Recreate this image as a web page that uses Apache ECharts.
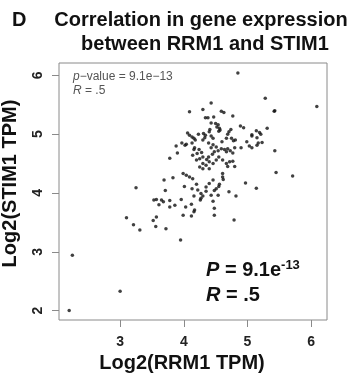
<!DOCTYPE html>
<html>
<head>
<meta charset="utf-8">
<script src="https://cdn.jsdelivr.net/npm/echarts@6/dist/echarts.min.js"></script>
<style>
  html, body { margin: 0; background: #fff; }
  #chart { width: 356px; height: 385px; }
</style>
</head>
<body>
<div id="chart"></div>
<script>
// RRM1 (x) and STIM1 (y), log2 TPM
const rrm1 = [
  4.85, 5.28, 6.09, 5.42, 5.43, 4.43, 4.09, 4.30, 4.59, 4.63,
  4.77, 4.34, 4.38, 4.47, 4.43, 4.50, 4.54, 4.52, 4.41, 4.56,
  4.55, 4.57, 4.89, 4.94, 4.74, 4.71, 5.31, 5.14, 5.19, 5.07,
  5.07, 5.21, 5.15, 4.06, 4.09, 4.13, 4.16, 4.18, 4.23, 4.31,
  4.34, 4.33, 4.30, 4.40, 4.43, 4.46, 4.69, 4.67, 4.75, 4.78,
  4.81, 4.60, 3.97, 4.02, 4.04, 3.88, 3.90, 4.99, 5.03, 5.07,
  5.15, 5.17, 5.23, 4.90, 3.78, 4.13, 4.17, 4.16, 4.24, 4.21,
  4.28, 4.30, 4.25, 4.20, 4.39, 4.46, 4.43, 4.51, 4.54, 4.48,
  4.45, 4.39, 4.36, 4.40, 4.46, 4.51, 4.55, 4.59, 4.64, 4.69,
  4.73, 4.67, 4.80, 4.77, 4.14, 4.30, 4.35, 4.25, 4.30, 4.40,
  4.61, 4.67, 4.72, 4.77, 4.80, 4.69, 4.61, 4.61, 4.62, 5.43,
  5.45, 5.71, 4.97, 5.14, 3.83, 3.99, 4.04, 4.09, 4.14, 4.01,
  4.13, 4.20, 4.22, 4.27, 4.35, 4.40, 4.46, 4.51, 4.55, 4.48,
  4.43, 4.30, 4.27, 4.26, 4.56, 4.71, 4.82, 3.96, 3.86, 3.78,
  4.03, 4.12, 4.17, 4.16, 3.99, 4.12, 4.48, 4.48, 4.46, 4.54,
  4.79, 3.95, 3.25, 3.69, 3.71, 3.53, 3.57, 3.65, 3.61, 3.68,
  3.78, 3.10, 3.21, 3.31, 3.52, 3.57, 3.56, 3.72, 2.25, 3.00,
  2.20, 4.16, 4.35
];
const stim1 = [
  6.04, 5.61, 5.47, 5.39, 5.40, 5.53, 5.38, 5.42, 5.39, 5.37,
  5.31, 5.28, 5.28, 5.29, 5.19, 5.18, 5.16, 5.12, 5.08, 5.10,
  5.05, 5.07, 5.14, 5.11, 5.08, 5.04, 5.10, 5.06, 5.03, 4.99,
  4.97, 5.00, 4.94, 5.02, 4.98, 4.95, 4.93, 4.90, 5.00, 5.01,
  4.98, 4.94, 4.90, 5.04, 4.97, 4.93, 5.00, 4.93, 4.93, 4.89,
  4.90, 4.87, 4.85, 4.81, 4.83, 4.80, 4.68, 4.87, 4.80, 4.77,
  4.81, 4.85, 4.86, 4.77, 4.59, 4.85, 4.77, 4.74, 4.74, 4.67,
  4.69, 4.61, 4.58, 4.56, 4.85, 4.82, 4.77, 4.78, 4.72, 4.70,
  4.66, 4.61, 4.57, 4.53, 4.50, 4.56, 4.61, 4.75, 4.74, 4.75,
  4.72, 4.70, 4.77, 4.68, 4.64, 4.50, 4.47, 4.44, 4.41, 4.41,
  4.56, 4.50, 4.53, 4.54, 4.45, 4.45, 4.33, 4.27, 4.23, 4.72,
  4.35, 4.29, 4.17, 4.08, 4.26, 4.33, 4.30, 4.27, 4.24, 4.11,
  4.07, 4.15, 4.05, 3.99, 4.10, 4.16, 4.22, 4.07, 4.11, 4.04,
  3.96, 3.95, 3.91, 3.88, 4.15, 4.02, 3.95, 3.89, 3.79, 3.76,
  3.76, 3.81, 3.71, 3.68, 3.62, 3.61, 3.74, 3.62, 3.86, 3.96,
  3.54, 3.20, 4.09, 4.22, 4.04, 3.88, 3.89, 3.88, 3.80, 3.85,
  3.87, 3.58, 3.46, 3.37, 3.53, 3.59, 3.43, 3.39, 2.94, 2.33,
  2.00, 3.95, 4.03
];
const xTicks = [3, 4, 5, 6];
const yTicks = [2, 3, 4, 5, 6];

const points = rrm1.map((x, i) => [x, stim1[i]]);

const chart = echarts.init(document.getElementById('chart'));
const FONT = '"Liberation Sans", Arial, sans-serif';

const option = {
  animation: false,
  grid: {
    left: 59, top: 63, right: 29, bottom: 65,
    outerBoundsMode: 'none',
    show: true, borderColor: '#8a8a8a', borderWidth: 1
  },
  xAxis: {
    type: 'value', min: 2.04, max: 6.25,
    name: 'Log2(RRM1 TPM)', nameLocation: 'middle', nameGap: 25,
    nameTextStyle: { fontFamily: FONT, fontWeight: 'bold', fontSize: 20, color: '#111', padding: [0, 22, 0, 0] },
    axisLine: { show: false },
    splitLine: { show: false },
    axisTick: { show: true, length: 7, customValues: xTicks, lineStyle: { color: '#8a8a8a' } },
    axisLabel: { customValues: xTicks, margin: 15, fontFamily: FONT, fontWeight: 'bold', fontSize: 14, color: '#222' }
  },
  yAxis: {
    type: 'value', min: 1.84, max: 6.21,
    name: 'Log2(STIM1 TPM)', nameLocation: 'middle', nameGap: 39, nameRotate: 90,
    nameTextStyle: { fontFamily: FONT, fontWeight: 'bold', fontSize: 20, color: '#111', padding: [0, 0, 0, 16] },
    axisLine: { show: false },
    splitLine: { show: false },
    axisTick: { show: true, length: 7, customValues: yTicks, lineStyle: { color: '#8a8a8a' } },
    axisLabel: { customValues: yTicks, rotate: 90, margin: 14, fontFamily: FONT, fontWeight: 'bold', fontSize: 14, color: '#222' }
  },
  series: [{
    type: 'scatter',
    data: points,
    symbolSize: 3.5,
    itemStyle: { color: '#111' }
  }],
  graphic: [
    { type: 'text', x: 12, y: 20, style: { text: 'D', font: 'bold 20px ' + FONT, fill: '#111', verticalAlign: 'middle', textVerticalAlign: 'middle' } },
    { type: 'text', x: 201, y: 20, style: { text: 'Correlation in gene expression', font: 'bold 20px ' + FONT, fill: '#111', align: 'center', textAlign: 'center', verticalAlign: 'middle', textVerticalAlign: 'middle' } },
    { type: 'text', x: 205, y: 44, style: { text: 'between RRM1 and STIM1', font: 'bold 20px ' + FONT, fill: '#111', align: 'center', textAlign: 'center', verticalAlign: 'middle', textVerticalAlign: 'middle' } },
    { type: 'text', x: 73, y: 77, style: {
        text: '{i|p}\u2212value = 9.1e\u221213', fill: '#555', font: '12px ' + FONT,
        verticalAlign: 'middle', textVerticalAlign: 'middle',
        rich: { i: { fontStyle: 'italic', fontSize: 12, fontFamily: FONT, fill: '#555' } } } },
    { type: 'text', x: 73, y: 91, style: {
        text: '{i|R} = .5', fill: '#555', font: '12px ' + FONT,
        verticalAlign: 'middle', textVerticalAlign: 'middle',
        rich: { i: { fontStyle: 'italic', fontSize: 12, fontFamily: FONT, fill: '#555' } } } },
    { type: 'text', x: 206, y: 270, style: {
        text: '{i|P} = 9.1e{s|-13}', fill: '#111', font: 'bold 20px ' + FONT,
        verticalAlign: 'middle', textVerticalAlign: 'middle',
        rich: {
          i: { fontStyle: 'italic', fontWeight: 'bold', fontSize: 20, fontFamily: FONT, fill: '#111' },
          s: { fontWeight: 'bold', fontSize: 13, fontFamily: FONT, fill: '#111', verticalAlign: 'top', padding: [0, 0, 10, 0] }
        } } },
    { type: 'text', x: 206, y: 295, style: {
        text: '{i|R} = .5', fill: '#111', font: 'bold 20px ' + FONT,
        verticalAlign: 'middle', textVerticalAlign: 'middle',
        rich: { i: { fontStyle: 'italic', fontWeight: 'bold', fontSize: 20, fontFamily: FONT, fill: '#111' } } } }
  ]
};

chart.setOption(option);
window.addEventListener('resize', () => chart.resize());
</script>
</body>
</html>
